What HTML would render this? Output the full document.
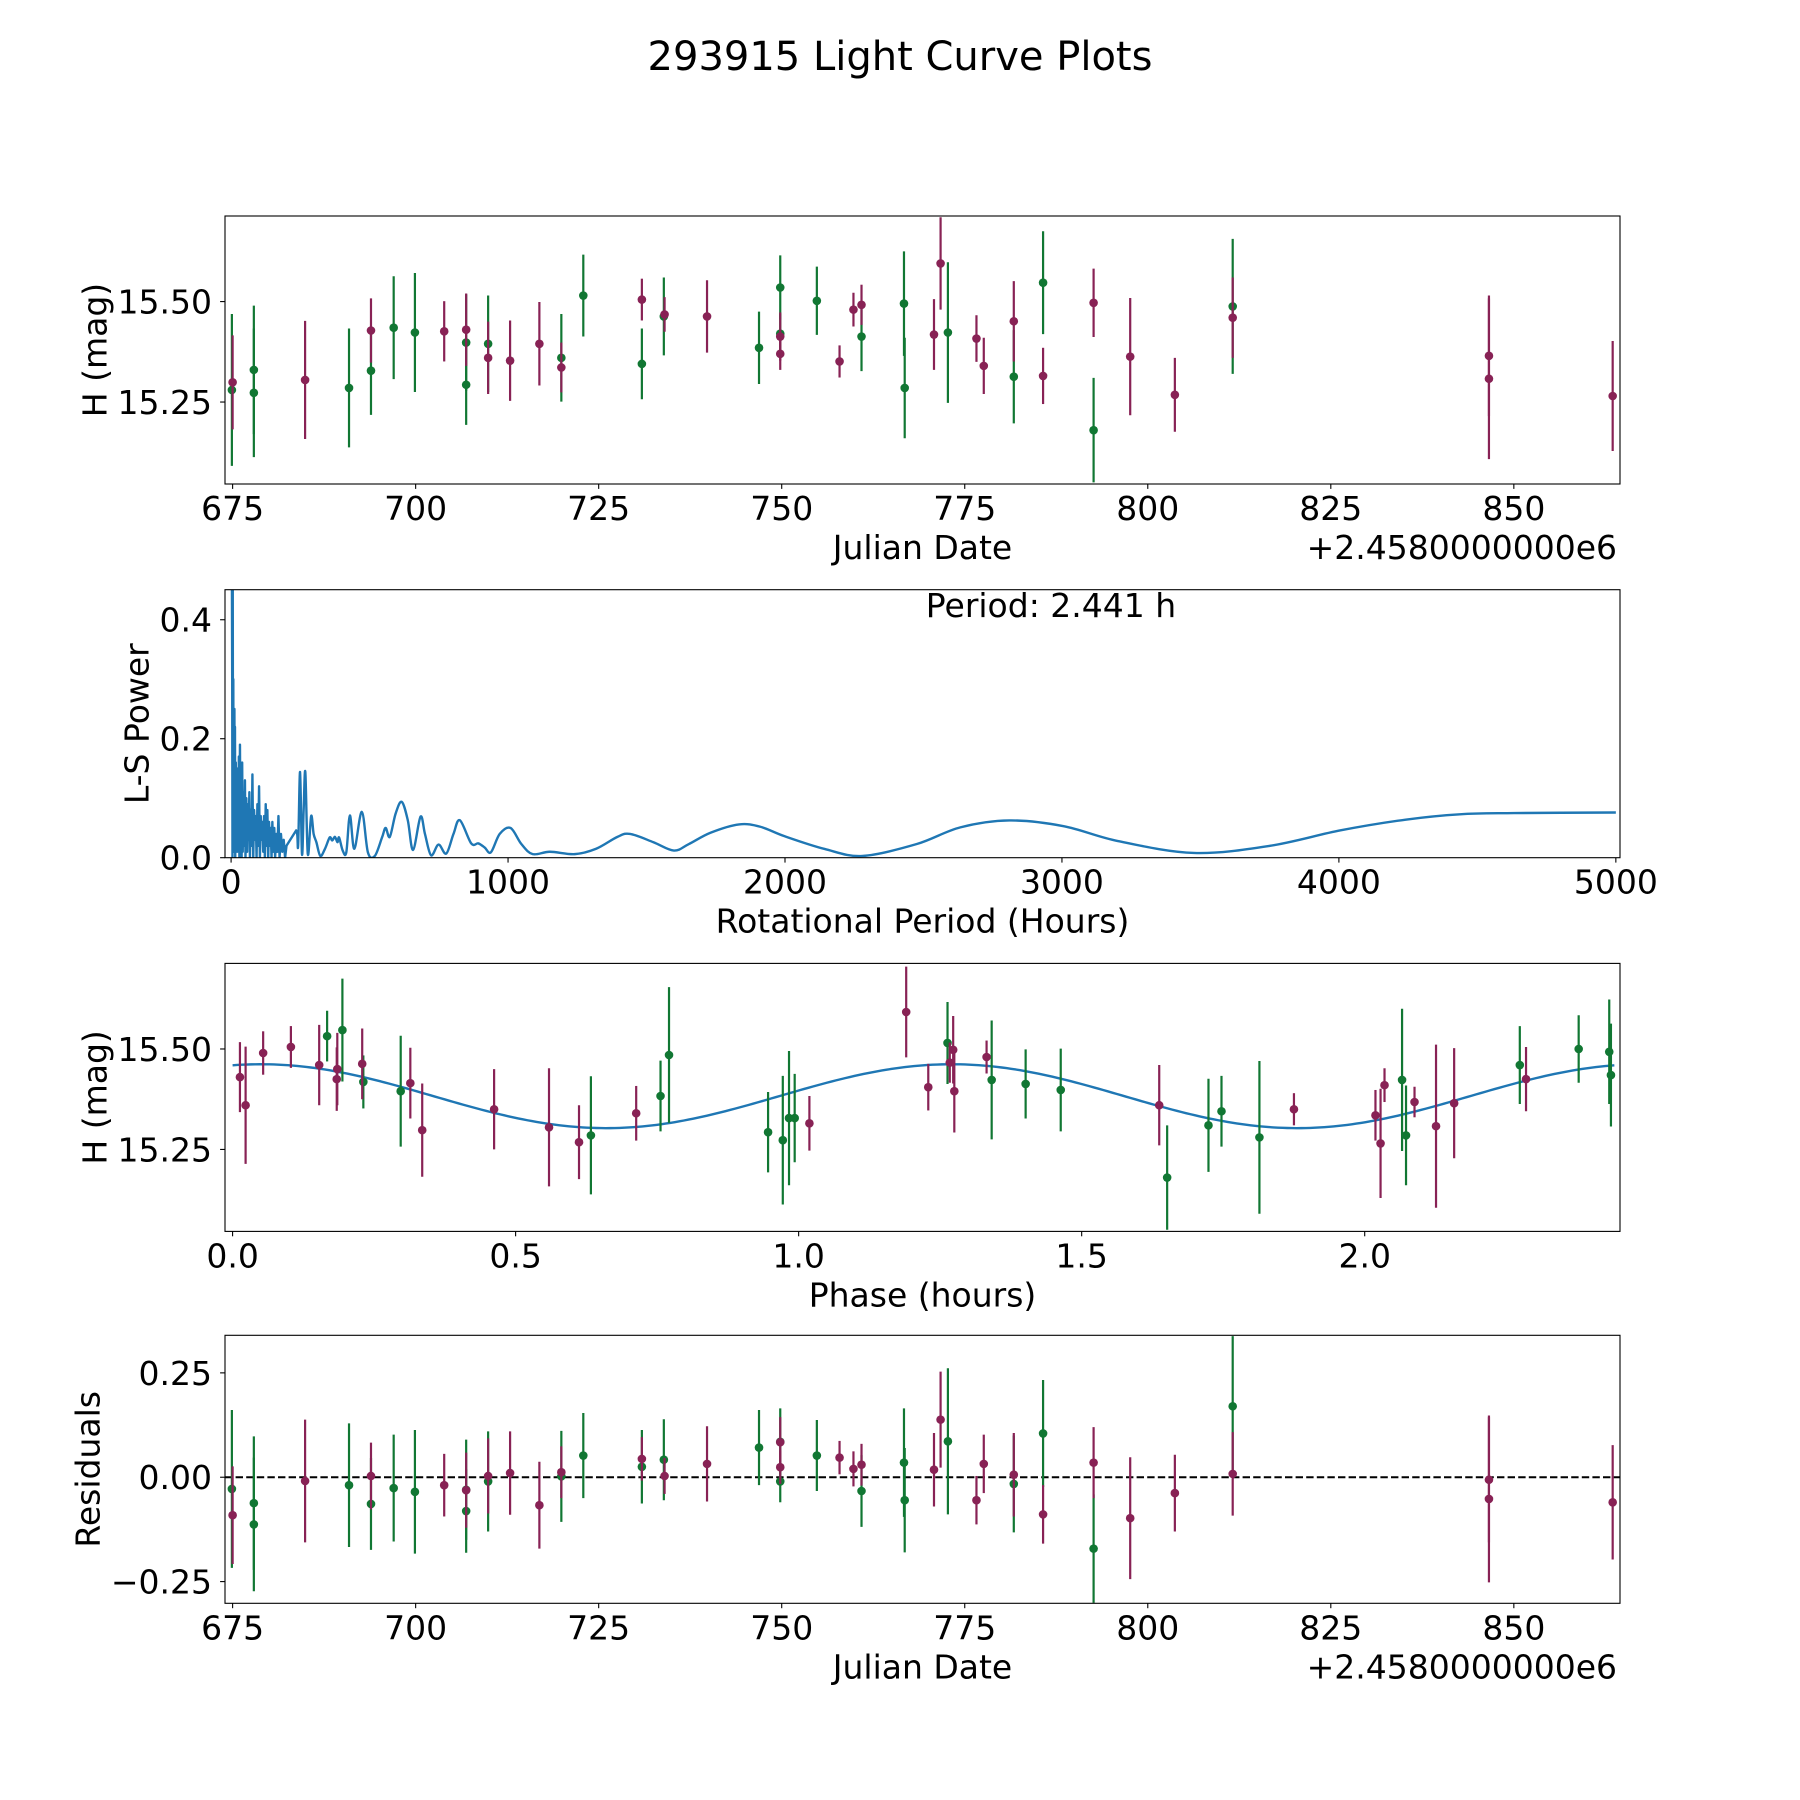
<!DOCTYPE html>
<html><head><meta charset="utf-8">
<style>
html,body{margin:0;padding:0;background:#fff;}
svg{display:block;font-family:"DejaVu Sans","Liberation Sans",sans-serif;}
</style></head>
<body>
<svg id="fig" width="1800" height="1800" viewBox="0 0 1800 1800" xmlns="http://www.w3.org/2000/svg">
<rect x="0" y="0" width="1800" height="1800" fill="#fff"/>
<text x="900" y="70" font-size="40" text-anchor="middle">293915 Light Curve Plots</text>
</svg>
<script>
// ---------- Light curve (JD offset from 2458000) ----------
const jdGreen  = [674.9,677.9,677.9,690.9,693.9,697.0,699.9,706.9,706.9,709.9,719.9,722.9,730.9,733.9,746.9,749.8,749.8,754.8,760.9,766.7,766.8,772.7,781.7,785.7,792.6,811.6];
const magGreen = [15.280,15.330,15.273,15.285,15.328,15.435,15.423,15.398,15.293,15.395,15.360,15.515,15.345,15.463,15.385,15.535,15.420,15.502,15.413,15.495,15.285,15.423,15.313,15.547,15.180,15.488];
const errGreen = [0.189,0.16,0.16,0.148,0.11,0.128,0.148,0.12,0.10,0.12,0.109,0.102,0.088,0.097,0.09,0.08,0.05,0.085,0.086,0.13,0.125,0.175,0.116,0.128,0.13,0.168];
const resGreen = [-0.028,-0.062,-0.113,-0.019,-0.064,-0.026,-0.035,-0.030,-0.081,-0.010,0.002,0.052,0.025,0.042,0.071,0.085,-0.010,0.052,-0.033,0.035,-0.055,0.086,-0.016,0.105,-0.171,0.170];

const jdRed  = [675.0,684.9,693.9,703.9,706.9,709.9,712.9,716.9,719.9,730.9,734.0,739.8,749.8,749.8,757.9,759.8,760.9,770.8,771.7,776.6,777.6,781.7,785.7,792.6,797.6,803.7,811.6,846.6,846.6,863.5];
const magRed = [15.299,15.305,15.428,15.426,15.430,15.360,15.353,15.395,15.336,15.505,15.468,15.463,15.413,15.370,15.351,15.480,15.492,15.418,15.595,15.408,15.340,15.451,15.315,15.497,15.363,15.268,15.460,15.365,15.308,15.265];
const errRed = [0.117,0.147,0.08,0.075,0.09,0.09,0.1,0.104,0.062,0.052,0.043,0.09,0.06,0.04,0.04,0.042,0.05,0.088,0.115,0.058,0.07,0.1,0.07,0.085,0.146,0.092,0.1,0.15,0.2,0.137];
const resRed = [-0.091,-0.009,0.003,-0.019,-0.031,0.003,0.010,-0.067,0.012,0.044,0.003,0.032,0.084,0.024,0.047,0.020,0.030,0.018,0.138,-0.055,0.032,0.006,-0.089,0.035,-0.098,-0.038,0.008,-0.006,-0.052,-0.060];

// ---------- Phase-folded ----------
const phGreen    = [0.167,0.194,0.231,0.297,0.633,0.756,0.771,0.946,0.972,0.983,0.993,1.263,1.341,1.401,1.463,1.651,1.724,1.747,1.814,2.066,2.073,2.274,2.378,2.432,2.435];
const phMagGreen = [15.532,15.547,15.418,15.395,15.285,15.383,15.485,15.293,15.273,15.328,15.328,15.515,15.423,15.413,15.398,15.180,15.310,15.345,15.280,15.423,15.285,15.460,15.500,15.493,15.435];
const phErrGreen = [0.063,0.128,0.066,0.138,0.147,0.088,0.169,0.1,0.16,0.167,0.11,0.102,0.148,0.086,0.103,0.13,0.116,0.088,0.19,0.177,0.124,0.097,0.084,0.13,0.128];
const phRed    = [0.013,0.023,0.054,0.103,0.153,0.185,0.184,0.229,0.314,0.335,0.462,0.559,0.612,0.713,1.019,1.190,1.229,1.267,1.273,1.275,1.332,1.637,1.875,2.019,2.028,2.035,2.088,2.126,2.158,2.285];
const phMagRed = [15.430,15.360,15.490,15.505,15.460,15.450,15.425,15.463,15.415,15.298,15.350,15.305,15.268,15.340,15.315,15.592,15.405,15.466,15.498,15.395,15.480,15.360,15.350,15.335,15.265,15.410,15.368,15.308,15.365,15.425];
const phErrRed = [0.087,0.146,0.054,0.052,0.10,0.09,0.079,0.088,0.088,0.116,0.1,0.147,0.092,0.068,0.068,0.113,0.058,0.05,0.084,0.103,0.041,0.1,0.04,0.063,0.136,0.042,0.038,0.203,0.137,0.08];
const fitMean = 15.3825, fitAmp = 0.0795, fitPeriod = 2.441, fitPhase0 = 0.05;

// ---------- Periodogram ----------
const periods = [1,3,4,5,6,7,8,9,10,11,12,13,14,15,17,19,20,22,24,26,28,30,32,34,36,38,40,42,45,47,50,52,55,58,61,63,66,68,71,74,77,80,83,86,89,92,95,98,101,104,107,110,113,116,119,122,125,128,131,134,137,140,143,146,149,152,156,159,163,167,171,175,180,185,190,195,200,235,242,249,256,262,268,277,289,298,308,322,339,356,365,375,384,390,403,416,429,445,472,494,519,545,558,573,594,616,638,657,684,700,722,749,777,803,826,867,893,916,938,970,1009,1048,1089,1151,1241,1318,1395,1441,1525,1599,1653,1731,1834,1911,1999,2143,2280,2476,2633,2810,3006,3202,3476,3751,4006,4241,4437,4633,5000];
const powers  = [0.46,0.46,0.30,0.0,0.46,0.05,0.30,0.02,0.25,0.01,0.25,0.03,0.22,0.0,0.16,0.02,0.13,0.01,0.15,0.02,0.17,0.0,0.19,0.03,0.12,0.0,0.16,0.01,0.11,0.02,0.13,0.0,0.10,0.01,0.09,0.03,0.11,0.0,0.08,0.02,0.14,0.0,0.08,0.03,0.07,0.0,0.09,0.02,0.12,0.0,0.07,0.03,0.06,0.01,0.07,0.0,0.09,0.02,0.08,0.0,0.06,0.02,0.05,0.0,0.06,0.01,0.05,0.0,0.04,0.01,0.07,0.0,0.04,0.01,0.03,0.0,0.02,0.046,0.02,0.144,0.006,0.08,0.144,0.006,0.07,0.04,0.026,0.003,0.015,0.034,0.029,0.035,0.026,0.034,0.012,0.009,0.071,0.015,0.077,0.009,0.003,0.034,0.05,0.035,0.074,0.094,0.063,0.013,0.069,0.040,0.004,0.022,0.007,0.040,0.063,0.024,0.024,0.017,0.009,0.040,0.050,0.023,0.006,0.01,0.006,0.015,0.035,0.040,0.026,0.012,0.023,0.042,0.056,0.052,0.036,0.0147,0.003,0.023,0.051,0.0626,0.053,0.028,0.008,0.020,0.046,0.064,0.073,0.075,0.076];

const ptLabel = "Period: 2.441 h";

// ---------- layout ----------
const NS = "http://www.w3.org/2000/svg";
const svg = document.getElementById('fig');
const L = 225, R = 1620;
const rows = [[216,484],[589.7,857.7],[963.4,1231.4],[1335.3,1603.3]];
const GREEN = '#117733', RED = '#882255', BLUE = '#1f77b4';
function mk(tag, attrs, parent){ const e=document.createElementNS(NS,tag); for(const k in attrs) e.setAttribute(k,attrs[k]); (parent||svg).appendChild(e); return e; }
function scale(d0,d1,r0,r1){ return v => r0 + (v-d0)/(d1-d0)*(r1-r0); }

function axesFrame(idx, name, xdom, ydom, xticks, xlabels, yticks, ylabels, xlabel, ylabel, ylabelX){
  const [T,B] = rows[idx];
  const g = mk('g',{});
  
  
  const clip = mk('clipPath',{id:'clip'+idx}, g);
  mk('rect',{x:L,y:T,width:R-L,height:B-T}, clip);
  const x = scale(xdom[0],xdom[1],L,R), y = scale(ydom[0],ydom[1],B,T);
  const plot = mk('g',{'clip-path':'url(#clip'+idx+')'}, g);
  
  
  const ax = mk('g',{}, g);
  xticks.forEach((t,i)=>{
    const px=x(t);
    mk('line',{x1:px,x2:px,y1:B,y2:B+4.9,stroke:'#000','stroke-width':1.1},ax);
    const tx=mk('text',{x:px,y:B+36,'font-size':33,'text-anchor':'middle'},ax);
    tx.textContent=xlabels[i];
    
    
  });
  yticks.forEach((t,i)=>{
    const py=y(t);
    mk('line',{x1:L-4.9,x2:L,y1:py,y2:py,stroke:'#000','stroke-width':1.1},ax);
    const tx=mk('text',{x:212,y:py+12,'font-size':33,'text-anchor':'end'},ax);
    tx.textContent=ylabels[i];
    
    
  });
  const xl=mk('text',{x:(L+R)/2,y:B+75,'font-size':33,'text-anchor':'middle'},ax);
  xl.textContent=xlabel;
  
  
  const cy=(T+B)/2;
  const yl=mk('text',{x:ylabelX,y:cy,'font-size':33,'text-anchor':'middle','dominant-baseline':'central',transform:'rotate(-90 '+ylabelX+' '+cy+')'},ax);
  yl.textContent=ylabel;
  
  
  return {g, plot, ax, x, y, T, B};
}
function frameBorder(a){
  const r=mk('rect',{x:L,y:a.T,width:R-L,height:a.B-a.T,fill:'none',stroke:'#000','stroke-width':1.1},a.g);
  
  
}
function errPoints(a, xs, ys, es, color, name){
  xs.forEach((v,i)=>{
    const px=a.x(v);
    const ln=mk('line',{x1:px,x2:px,y1:a.y(ys[i]+es[i]),y2:a.y(ys[i]-es[i]),stroke:color,'stroke-width':2.2},a.plot);
    
    
    const c=mk('circle',{cx:px,cy:a.y(ys[i]),r:4.3,fill:color},a.plot);
    
    
  });
}
function offsetText(a){
  const t=mk('text',{x:1617,y:a.B+75,'font-size':33,'text-anchor':'end'},a.ax);
  t.textContent='+2.4580000000e6';
  
  
}

const jdDom=[673.96,864.5], magDom=[15.046,15.713];
const jdTicks=[675,700,725,750,775,800,825,850];

// Row 1
const a1=axesFrame(0,'light-curve-panel',jdDom,magDom,jdTicks,jdTicks.map(String),[15.25,15.5],['15.25','15.50'],'Julian Date','H (mag)',95);
errPoints(a1,jdGreen,magGreen,errGreen,GREEN,'green-observation');
errPoints(a1,jdRed,magRed,errRed,RED,'red-observation');
offsetText(a1); frameBorder(a1);

// Row 2
const a2=axesFrame(1,'periodogram-panel',[-22,5015],[0,0.4505],[0,1000,2000,3000,4000,5000],['0','1000','2000','3000','4000','5000'],[0,0.2,0.4],['0.0','0.2','0.4'],'Rotational Period (Hours)','L-S Power',137);
(function(){
  const pts=periods.map((p,i)=>[a2.x(p),a2.y(powers[i])]);
  let d='M'+pts[0][0].toFixed(2)+' '+pts[0][1].toFixed(2);
  for(let i=1;i<pts.length;i++){
    const p0=pts[Math.max(0,i-2)],p1=pts[i-1],p2=pts[i],p3=pts[Math.min(pts.length-1,i+1)];
    const sharp = periods[i] < 240;
    if(sharp){ d+=' L'+p2[0].toFixed(2)+' '+p2[1].toFixed(2); continue; }
    const c1=[p1[0]+(p2[0]-p0[0])/6,p1[1]+(p2[1]-p0[1])/6];
    const c2=[p2[0]-(p3[0]-p1[0])/6,p2[1]-(p3[1]-p1[1])/6];
    d+=' C'+c1[0].toFixed(2)+' '+c1[1].toFixed(2)+' '+c2[0].toFixed(2)+' '+c2[1].toFixed(2)+' '+p2[0].toFixed(2)+' '+p2[1].toFixed(2);
  }
  const path=mk('path',{d:d,fill:'none',stroke:BLUE,'stroke-width':2.4,'stroke-linejoin':'round'},a2.plot);
  
  
  const t=mk('text',{x:1051,y:617,'font-size':33,'text-anchor':'middle'},a2.ax);
  t.textContent=ptLabel;
  
  
})();
frameBorder(a2);

// Row 3
const a3=axesFrame(2,'phase-folded-panel',[-0.0134,2.451],magDom,[0,0.5,1,1.5,2],['0.0','0.5','1.0','1.5','2.0'],[15.25,15.5],['15.25','15.50'],'Phase (hours)','H (mag)',95);
(function(){
  let d='';
  for(let i=0;i<=300;i++){
    const ph=fitPeriod*i/300;
    const m=fitMean+fitAmp*Math.cos(2*Math.PI*(ph-fitPhase0)/(fitPeriod/2));
    d+=(i?' L':'M')+a3.x(ph).toFixed(2)+' '+a3.y(m).toFixed(2);
  }
  const p=mk('path',{d:d,fill:'none',stroke:BLUE,'stroke-width':2.4},a3.plot);
  
  
})();
errPoints(a3,phGreen,phMagGreen,phErrGreen,GREEN,'green-phase');
errPoints(a3,phRed,phMagRed,phErrRed,RED,'red-phase');
frameBorder(a3);

// Row 4
const a4=axesFrame(3,'residuals-panel',jdDom,[-0.302,0.340],jdTicks,jdTicks.map(String),[-0.25,0,0.25],['\u22120.25','0.00','0.25'],'Julian Date','Residuals',88);
(function(){
  const z=a4.y(0);
  const l=mk('line',{x1:L,x2:R,y1:z,y2:z,stroke:'#000','stroke-width':2,'stroke-dasharray':'7.4,3.2'},a4.plot);
  
  
})();
errPoints(a4,jdGreen,resGreen,errGreen,GREEN,'green-residual');
errPoints(a4,jdRed,resRed,errRed,RED,'red-residual');
offsetText(a4); frameBorder(a4);
</script>
</body></html>
